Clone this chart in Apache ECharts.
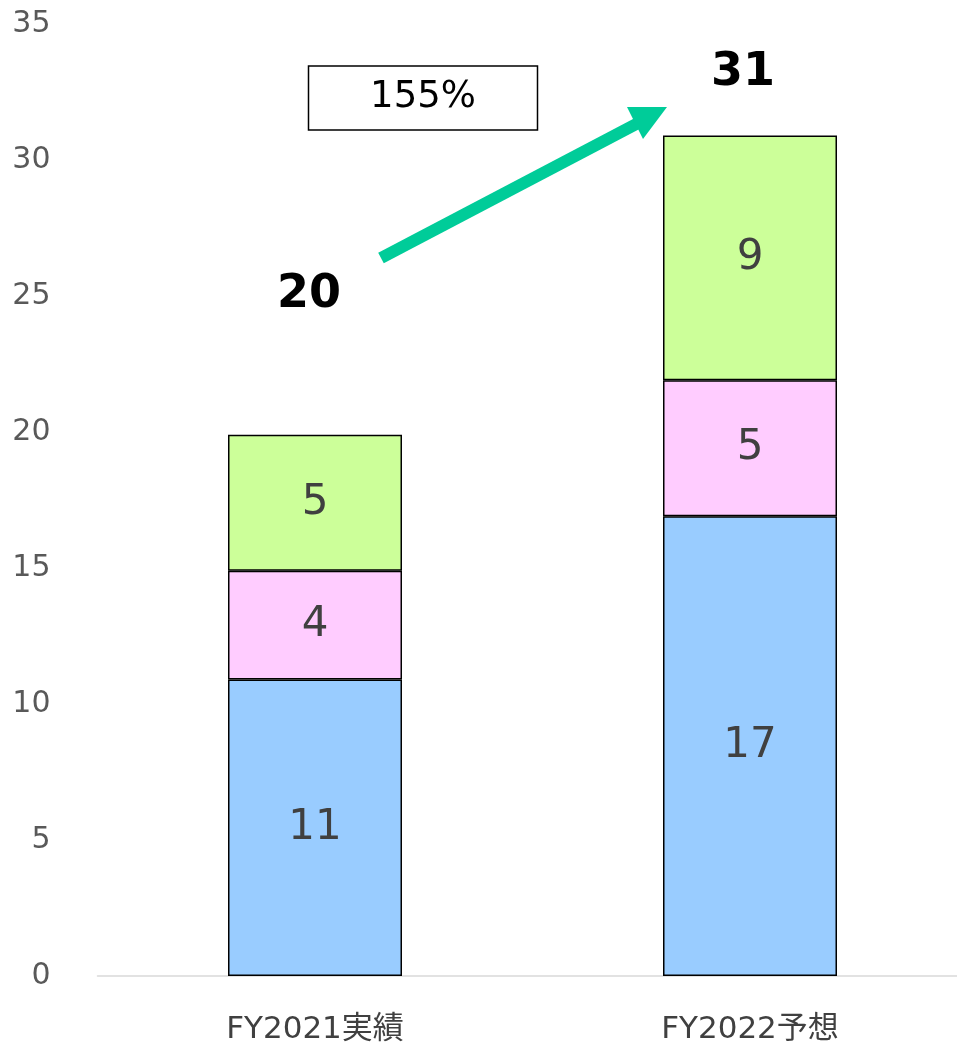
<!DOCTYPE html>
<html>
<head>
<meta charset="utf-8">
<script src="https://cdn.jsdelivr.net/npm/echarts@6/dist/echarts.min.js"></script>
<style>html,body{margin:0;padding:0;background:#fff}#c{width:957px;height:1044px}</style>
</head>
<body>
<div id="c"></div>
<script>
const categories = ['FY2021実績', 'FY2022予想'];
const seriesBlue = [10.9, 16.9];
const seriesPink = [4.0, 5.0];
const seriesGreen = [5.0, 9.0];
const totals = [19.9, 30.9];
const yTicks = [0, 5, 10, 15, 20, 25, 30, 35];
const growthLabel = '155%';

const FONT = '"DejaVu Sans", "Noto Sans CJK JP", sans-serif';
const chart = echarts.init(document.getElementById('c'), null, {renderer: 'canvas'});

function stackSeries(name, data, color) {
  return {
    name, type: 'bar', stack: 'total', data, barWidth: '40%',
    itemStyle: {color, borderColor: '#000', borderWidth: 1.5},
    label: {show: true, position: 'inside', fontFamily: FONT, fontSize: 42, color: '#404040',
      formatter: p => Math.round(p.value)}
  };
}

const totalLabelOffsets = [[-6, -112], [-7, -34]];

chart.setOption({
  animation: false,
  grid: {left: 97.5, width: 870, top: 24, bottom: 68, outerBoundsMode: 'none', containLabel: false},
  xAxis: {
    type: 'category', data: categories,
    axisLine: {lineStyle: {color: '#d9d9d9', width: 1.5}},
    axisTick: {show: false},
    axisLabel: {fontFamily: FONT, fontSize: 31, color: '#404040', margin: 38}
  },
  yAxis: {
    type: 'value', min: yTicks[0], max: yTicks[yTicks.length - 1], interval: 5,
    axisLine: {show: false}, axisTick: {show: false}, splitLine: {show: false},
    axisLabel: {fontFamily: FONT, fontSize: 30, color: '#595959', margin: 47}
  },
  series: [
    stackSeries('blue', seriesBlue, '#99CCFF'),
    stackSeries('pink', seriesPink, '#FFCCFF'),
    stackSeries('green', seriesGreen, '#CCFF99'),
    {
      type: 'scatter', symbolSize: 0, silent: true,
      itemStyle: {opacity: 1},
      label: {show: true, position: 'top',
        formatter: p => '{t|' + Math.round(p.value[1]) + '}',
        rich: {t: {fontFamily: FONT, fontSize: 46, fontWeight: 'bold', color: '#000'}}},
      data: totals.map((v, i) => ({
        value: [i, v],
        label: {offset: totalLabelOffsets[i]}
      }))
    }
  ],
  graphic: [
    {type: 'rect', shape: {x: 308.5, y: 66, width: 229, height: 64},
      style: {fill: '#fff', stroke: '#000', lineWidth: 1.5}},
    {type: 'text', x: 423, y: 97, style: {text: growthLabel, fontFamily: FONT, fontSize: 37,
      fill: '#000', textAlign: 'center', textVerticalAlign: 'middle'}},
    {type: 'line', shape: {x1: 381, y1: 258, x2: 642, y2: 121},
      style: {stroke: '#00CC99', lineWidth: 12}},
    {type: 'polygon', shape: {points: [[667, 107], [627, 107], [643, 139]]},
      style: {fill: '#00CC99'}}
  ]
});
</script>
</body>
</html>
